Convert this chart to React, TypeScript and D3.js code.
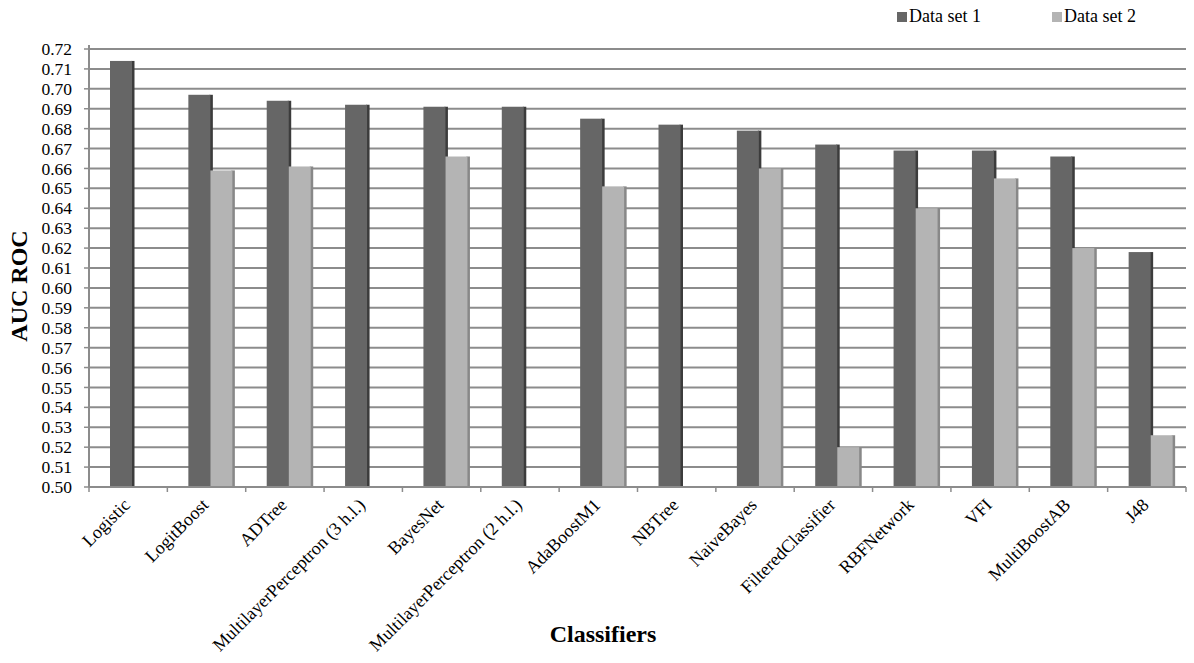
import React from "react";
import * as d3 from "d3";

const categories = [
  "Logistic", "LogitBoost", "ADTree", "MultilayerPerceptron (3 h.l.)", "BayesNet",
  "MultilayerPerceptron (2 h.l.)", "AdaBoostM1", "NBTree", "NaiveBayes",
  "FilteredClassifier", "RBFNetwork", "VFI", "MultiBoostAB", "J48",
];
const dataSet1 = [0.714, 0.697, 0.694, 0.692, 0.691, 0.691, 0.685, 0.682, 0.679, 0.672, 0.669, 0.669, 0.666, 0.618];
const dataSet2: (number | null)[] = [null, 0.659, 0.661, null, 0.666, null, 0.651, null, 0.66, 0.52, 0.64, 0.655, 0.62, 0.526];
const seriesNames = ["Data set 1", "Data set 2"];
const yTicks = d3.range(50, 73).map((v) => v / 100);

const W = 1194, H = 663;
const left = 89, right = 1186, top = 49, bottom = 487;
const faceColors = ["#666666", "#b4b4b4"];
const sideColors = ["#3c3c3c", "#888888"];
const FONT = "'Liberation Serif', 'Times New Roman', serif";

export default function App() {
  const x0 = d3.scaleBand<string>().domain(categories).range([left, right]).padding(0);
  const x1 = d3.scaleBand<string>().domain(seriesNames).range([21, 65]).padding(0);
  const y = d3.scaleLinear().domain([0.5, 0.72]).range([bottom, top]);
  const series = [dataSet1, dataSet2];
  const bw = x1.bandwidth();

  return (
    <svg width={W} height={H} style={{ position: "absolute", left: 0, top: 0, background: "#fff" }}>
      {/* grid */}
      {yTicks.map((t) => (
        <g key={t}>
          <line x1={left} x2={right} y1={y(t)} y2={y(t)} stroke="#8c8c8c" strokeWidth={2} />
          <line x1={left - 5} x2={left} y1={y(t)} y2={y(t)} stroke="#8c8c8c" strokeWidth={1.5} />
          <text x={left - 17} y={y(t)} dy="0.35em" textAnchor="end" fontFamily={FONT} fontSize={17.5} fill="#000">
            {t.toFixed(2)}
          </text>
        </g>
      ))}
      {/* bars */}
      {categories.map((c, i) => (
        <g key={c}>
          {series.map((s, si) => {
            const v = s[i];
            if (v == null) return null;
            const bx = (x0(c) as number) + (x1(seriesNames[si]) as number);
            const by = y(v);
            return (
              <g key={si}>
                <rect x={bx + bw - 1} y={by} width={3.5} height={bottom - by} fill={sideColors[si]} />
                <rect x={bx} y={by} width={bw} height={bottom - by} fill={faceColors[si]} />
              </g>
            );
          })}
        </g>
      ))}
      {/* axes */}
      <line x1={left} x2={left} y1={top - 4} y2={bottom} stroke="#8c8c8c" strokeWidth={2} />
      <line x1={left} x2={right} y1={bottom} y2={bottom} stroke="#8c8c8c" strokeWidth={2} />
      {categories.map((c) => (
        <line key={"t" + c} x1={x0(c) as number} x2={x0(c) as number} y1={bottom} y2={bottom + 5} stroke="#8c8c8c" strokeWidth={1.5} />
      ))}
      <line x1={right} x2={right} y1={bottom} y2={bottom + 5} stroke="#8c8c8c" strokeWidth={1.5} />
      {/* x labels */}
      {categories.map((c) => {
        const cx = (x0(c) as number) + x0.bandwidth() / 2 + 3;
        const cy = bottom + 19;
        return (
          <text key={"l" + c} x={cx} y={cy} textAnchor="end" fontFamily={FONT} fontSize={18} fill="#000"
            transform={`rotate(-45 ${cx} ${cy})`}>
            {c}
          </text>
        );
      })}
      {/* axis titles */}
      <text x={603} y={642} textAnchor="middle" fontFamily={FONT} fontSize={24} fontWeight="bold">Classifiers</text>
      <text transform={`translate(27 286) rotate(-90)`} textAnchor="middle" fontFamily={FONT} fontSize={24} fontWeight="bold">AUC ROC</text>
      {/* legend */}
      {seriesNames.map((n, i) => {
        const lx = 897 + i * 155;
        return (
          <g key={n}>
            <rect x={lx} y={12} width={10} height={10} fill={faceColors[i]} />
            <text x={lx + 12} y={22} fontFamily={FONT} fontSize={18} fill="#000">{n}</text>
          </g>
        );
      })}
    </svg>
  );
}
